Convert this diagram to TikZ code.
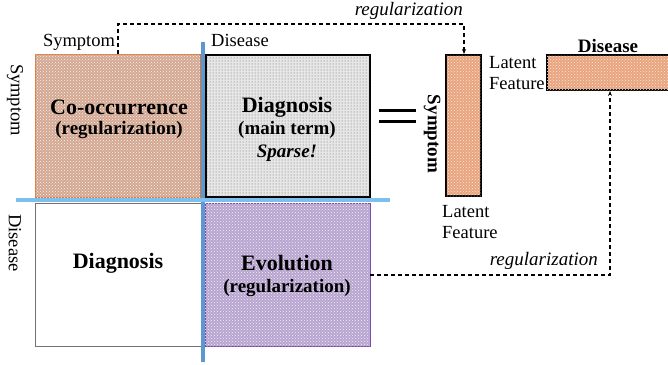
\documentclass[tikz,border=0pt]{standalone}
\usepackage{fontspec}
\setmainfont{Liberation Serif}
\usetikzlibrary{patterns,arrows.meta}
\definecolor{coocfill}{HTML}{D4A892}
\definecolor{coocline}{HTML}{D9773A}
\definecolor{diagfill}{HTML}{E6E6E6}
\definecolor{evofill}{HTML}{B9A5D0}
\definecolor{evoline}{HTML}{7A4AA8}
\definecolor{latfill}{HTML}{E9A47E}
\definecolor{vbar}{HTML}{5E98D0}
\definecolor{hbar}{HTML}{7DC0EE}
\tikzset{
  lbl/.style={font=\fontsize{18.5}{21}\selectfont, inner sep=0pt},
  ttl/.style={font=\fontsize{22}{23}\selectfont\bfseries, inner sep=0pt, align=center},
  sub/.style={font=\fontsize{19}{23}\selectfont\bfseries, inner sep=0pt, align=center},
  itl/.style={font=\fontsize{19}{21}\selectfont\itshape, inner sep=0pt},
  box/.style={rectangle, inner sep=0pt, outer sep=0pt},
  regline/.style={dash pattern=on 4pt off 3pt, line width=1.1pt},
}
\begin{document}
\begin{tikzpicture}[x=1pt,y=-1pt]
\useasboundingbox (0,0) rectangle (668,364);
% left matrix boxes
\node[box, minimum width=165pt, minimum height=143pt, fill=coocfill, draw=coocline, line width=0.9pt,
  postaction={pattern=crosshatch dots, pattern color=white!85!coocfill}] (cooc) at (117.5,125.5) {};
\node[box, minimum width=164pt, minimum height=142pt, fill=diagfill, draw=black, line width=2.4pt,
  postaction={pattern=dots, pattern color=black!60}] (diag) at (288,126) {};
\node[box, minimum width=167pt, minimum height=143pt, fill=white, draw=black!55, line width=1pt] (diagb) at (118.5,274.5) {};
\node[box, minimum width=165pt, minimum height=143pt, fill=evofill, draw=evoline, line width=1pt,
  postaction={pattern=crosshatch dots, pattern color=white!80!evofill}] (evo) at (287.5,274.5) {};
% blue separators
\coordinate (vtop) at (203,42);
\coordinate (vbot) at (203,362);
\coordinate (hl) at (16,200);
\coordinate (hr) at (390,200);
\draw[vbar, line width=4.5pt] (vtop) -- (vbot);
\draw[hbar, line width=4.5pt] (hl) -- (hr);
% texts in boxes
\node[ttl] (t1) at (119,107) {Co-occurrence};
\node[sub] (t2) at (119,130) {(regularization)};
\node[ttl] (t3) at (287,107) {Diagnosis};
\node[sub] (t4) at (287,130) {(main term)};
\node[sub, font=\fontsize{19}{23}\selectfont\bfseries\itshape] (t5) at (287,153) {Sparse!};
\node[ttl] (t6) at (118,263) {Diagnosis};
\node[ttl] (t7) at (287,263) {Evolution};
\node[sub] (t8) at (287,288) {(regularization)};
% axis labels
\node[lbl] (symtop) at (79,42) {Symptom};
\node[lbl] (distop) at (240,40) {Disease};
\node[lbl, rotate=-90] (symleft) at (15,100) {Symptom};
\node[lbl, rotate=-90] (disleft) at (15,243) {Disease};
% equals sign
\coordinate (e1l) at (379,110.5);
\coordinate (e1r) at (416,110.5);
\coordinate (e2l) at (379,121.5);
\coordinate (e2r) at (416,121.5);
\draw[line width=2.6pt] (e1l) -- (e1r);
\draw[line width=2.6pt] (e2l) -- (e2r);
% latent factors
\node[box, minimum width=35pt, minimum height=141pt, fill=latfill, draw=black, line width=2.4pt,
  postaction={pattern=crosshatch dots, pattern color=white!75!latfill}] (U) at (463.5,125.5) {};
\node[box, minimum width=140pt, minimum height=35pt, fill=latfill, draw=black, line width=2.4pt,
  postaction={pattern=crosshatch dots, pattern color=white!75!latfill}] (V) at (617,72.5) {};
\node[sub, rotate=-90] (symU) at (432,134) {Symptom};
\node[sub] (disV) at (608,46) {Disease};
\node[lbl, anchor=north west, align=left, font=\fontsize{18.5}{21.5}\selectfont] (lf1) at (489,56) {Latent\\Feature};
\node[lbl, anchor=north west, align=left, font=\fontsize{18.5}{21.5}\selectfont] (lf2) at (442,205) {Latent\\Feature};
% regularization connectors
\coordinate (c1) at (118,24);
\coordinate (c2) at (464,24);
\coordinate (s1) at (118,54);
\coordinate (a1) at (464,54);
\draw[regline, -{Stealth[length=5pt,width=4pt]}] (s1) -- (c1) -- (c2) -- (a1);
\node[itl, anchor=south east] (r1) at (463,20) {regularization};
\coordinate (s2) at (370,275);
\coordinate (c3) at (610,275);
\coordinate (a2) at (610,91);
\draw[regline, -{Stealth[length=5pt,width=4pt]}] (s2) -- (c3) -- (a2);
\node[itl, anchor=south east] (r2) at (598,270) {regularization};
\end{tikzpicture}
\end{document}
